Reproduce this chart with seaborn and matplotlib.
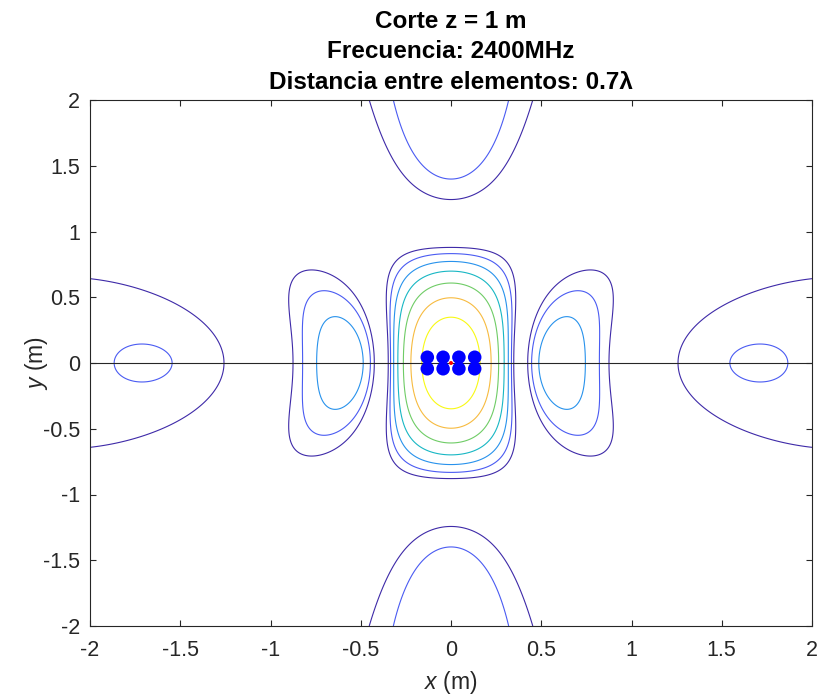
import numpy as np
import pandas as pd
import matplotlib
matplotlib.use("Agg")
import matplotlib.pyplot as plt
import seaborn as sns

# ---- parameters / data ----
freq_hz = 2400e6
spacing_wl = 0.7
z_cut = 1.0
elem_x_units = [-1.5, -0.5, 0.5, 1.5]      # element x positions (in units of spacing)
elem_y_units = [-0.5, 0.5]                 # element y positions (in units of spacing)
levels_db = [-21, -18, -15, -12, -9, -6, -3]
level_colors = ["#3e2aa8", "#4a5bf2", "#2892ec", "#18b7c4", "#6fcc66", "#f7bb40", "#f8f914"]
xticks = [-2, -1.5, -1, -0.5, 0, 0.5, 1, 1.5, 2]
yticks = [-2, -1.5, -1, -0.5, 0, 0.5, 1, 1.5, 2]
title_lines = ["Corte z = 1 m", "Frecuencia: 2400MHz", "Distancia entre elementos: 0.7λ"]

c = 3e8
lam = c / freq_hz
d = spacing_wl * lam
k = 2 * np.pi / lam
ex = np.array(elem_x_units) * d
ey = np.array(elem_y_units) * d
EX, EY = np.meshgrid(ex, ey)
EX = EX.ravel(); EY = EY.ravel()

# far-field array factor on the plane z = z_cut, with 1/r spreading
g = np.linspace(-2, 2, 601)
X, Y = np.meshgrid(g, g)
r = np.sqrt(X ** 2 + Y ** 2 + z_cut ** 2)
u = X / r
v = Y / r
E = np.zeros_like(X, dtype=complex)
for xn, yn in zip(EX, EY):
    E += np.exp(1j * k * (xn * u + yn * v))
E = E / r
Edb = 20 * np.log10(np.abs(E) / np.abs(E).max())

elements = pd.DataFrame({"x": EX, "y": EY})

# ---- plot ----
sns.set_theme(style="white")
plt.rcParams["font.family"] = ["Liberation Sans", "DejaVu Sans"]
plt.rcParams["mathtext.fontset"] = "custom"
plt.rcParams["mathtext.it"] = "Liberation Sans:italic"
plt.rcParams["mathtext.rm"] = "Liberation Sans"

fig = plt.figure(figsize=(8.24, 7.0), dpi=100)
ax = fig.add_axes([90 / 824, 1 - 626 / 700, (812 - 90) / 824, (626 - 100) / 700])

ax.contour(X, Y, Edb, levels=levels_db, colors=level_colors, linewidths=0.8)
ax.axhline(0, color="#262626", lw=0.8, zorder=3)
sns.scatterplot(data=elements, x="x", y="y", ax=ax, s=95, color="#0000ff",
                edgecolor="none", zorder=4, legend=False)
ax.scatter([0], [0], s=8, color="red", zorder=5, edgecolors="none")

ax.set_xlim(-2, 2)
ax.set_ylim(-2, 2)
ax.set_xticks(xticks)
ax.set_yticks(yticks)
ax.set_xticklabels([f"{t:g}" for t in xticks])
ax.set_yticklabels([f"{t:g}" for t in yticks])
ax.tick_params(direction="in", length=4, width=0.8, colors="#262626",
               top=True, right=True, bottom=True, left=True, labelsize=15.5)
ax.tick_params(axis="x", pad=10)
ax.tick_params(axis="y", pad=7)
for s in ax.spines.values():
    s.set_color("#262626")
    s.set_linewidth(0.8)
    s.set_visible(True)
ax.set_xlabel("$x$ (m)", fontsize=16.5, color="#262626", va="center")
ax.set_ylabel("$y$ (m)", fontsize=16.5, color="#262626", va="center")
ax.xaxis.set_label_coords(0.5, (626 - 683) / 526)
ax.yaxis.set_label_coords((37 - 90) / 722, 0.5)
ax.set_title("\n".join(title_lines), fontsize=17.5, fontweight="bold",
             linespacing=1.42, pad=8, color="black")
ax.grid(False)

fig.savefig("out.png", dpi=100)
